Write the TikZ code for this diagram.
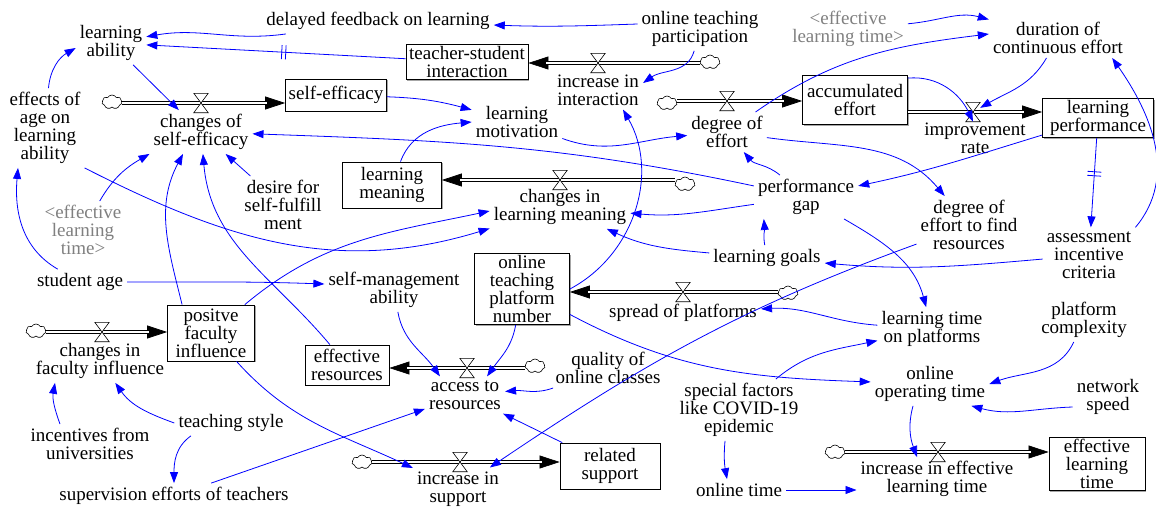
\documentclass[tikz,border=0pt]{standalone}
\usepackage{fontspec}
\setmainfont{Liberation Serif}
\usetikzlibrary{arrows.meta, shapes.symbols, shadows}

\definecolor{linkblue}{RGB}{0,0,255}

\tikzset{
  var/.style={align=center, inner sep=4pt, font=\fontsize{19}{18}\selectfont},
  ghost/.style={var, text=gray},
  stock/.style={var, draw, inner sep=2pt, line width=.8pt, fill=white,
    drop shadow={shadow xshift=1.2pt, shadow yshift=-1.2pt, fill=gray!70, opacity=1}},
  source/.style={cloud, draw, cloud puffs=7, cloud puff arc=120, aspect=1.4,
    minimum width=20pt, minimum height=14pt, inner sep=0pt, line width=.6pt},
  valvebox/.style={minimum width=14pt, minimum height=19pt, inner sep=0pt},
  valve/.style={draw, fill=white, line width=.6pt},
  link/.style={linkblue, line width=.8pt, -{Triangle[length=11pt,width=8pt]}},
  pipe/.style={double, double distance=2.4pt, line width=.7pt, shorten >=18pt},
  pipetip/.style={line width=.7pt, -{Triangle[length=20pt,width=13pt]}},
  delaymark/.pic={\draw[-, linkblue, line width=.8pt] (-2,-7) -- (-2,7) (2,-7) -- (2,7);},
}

\begin{document}
\begin{tikzpicture}[x=1pt, y=1pt]
\path[use as bounding box, fill=white] (0,0) rectangle (1156,-509);

% stocks
\node[stock, minimum width=122pt, minimum height=35pt] (tsi) at (467,-62) {teacher-student\\interaction};
\node[stock, minimum width=101pt, minimum height=32pt] (se) at (336,-95) {self-efficacy};
\node[stock, minimum width=105pt, minimum height=49pt] (ae) at (855,-100) {accumulated\\effort};
\node[stock, minimum width=111pt, minimum height=37pt] (lp) at (1098,-118) {learning\\performance};
\node[stock, minimum width=99pt, minimum height=46pt] (lm) at (392,-185) {learning\\meaning};
\node[stock, minimum width=95pt, minimum height=68pt] (otpn) at (522,-289) {online\\teaching\\platform\\number};
\node[stock, minimum width=87pt, minimum height=56pt] (pfi) at (211,-333) {positve\\faculty\\influence};
\node[stock, minimum width=84pt, minimum height=40pt] (er) at (347,-365) {effective\\resources};
\node[stock, minimum width=100pt, minimum height=46pt] (rs) at (610,-466) {related\\support};
\node[stock, minimum width=96pt, minimum height=53pt] (elt) at (1097,-464) {effective\\learning\\time};

% rates (labels under the valves)
\node[var] (cse) at (201,-132) {changes of\\self-efficacy};
\node[var] (iii) at (598,-90) {increase in\\interaction};
\node[var] (doe) at (727,-132) {degree of\\effort};
\node[var] (ir) at (975,-138) {improvement\\rate};
\node[var] (clm) at (560,-207) {changes in\\learning meaning};
\node[var] (sop) at (683,-313) {spread of platforms};
\node[var] (cfi) at (100,-361) {changes in\\faculty influence};
\node[var] (atr) at (465,-395) {access to\\resources};
\node[var] (iis) at (458,-489) {increase in\\support};
\node[var] (iielt) at (937,-479) {increase in effective\\learning time};

% auxiliaries
\node[var] (la) at (111,-43) {learning\\ability};
\node[var] (dfl) at (378,-21) {delayed feedback on learning};
\node[var] (otp) at (700,-29) {online teaching\\participation};
\node[var] (eoa) at (45,-128) {effects of\\age on\\learning\\ability};
\node[var] (dsf) at (283,-205) {desire for\\self-fulfill\\ment};
\node[ghost] (elt1) at (83,-230) {<effective\\learning\\time>};
\node[var] (lmot) at (517,-122) {learning\\motivation};
\node[ghost] (elt2) at (848,-29) {<effective\\learning time>};
\node[var] (dce) at (1058,-38) {duration of\\continuous effort};
\node[var] (pg) at (806,-197) {performance\\gap};
\node[var] (def) at (969,-225) {degree of\\effort to find\\resources};
\node[var] (aic) at (1089,-255) {assessment\\incentive\\criteria};
\node[var] (lg) at (767,-258) {learning goals};
\node[var] (sa) at (80,-282) {student age};
\node[var] (sma) at (394,-290) {self-management\\ability};
\node[var] (ltp) at (932,-329) {learning time\\on platforms};
\node[var] (pc) at (1084,-320) {platform\\complexity};
\node[var] (oot) at (930,-384) {online\\operating time};
\node[var] (ns) at (1108,-397) {network\\speed};
\node[var] (sfc) at (739,-410) {special factors\\like COVID-19\\epidemic};
\node[var] (qoc) at (608,-368) {quality of\\online classes};
\node[var] (ot) at (739,-490) {online time};
\node[var] (ifu) at (90,-444) {incentives from\\universities};
\node[var] (ts) at (231,-423) {teaching style};
\node[var] (set) at (174,-496) {supervision efforts of teachers};

% valves and clouds
\foreach \v/\p in {vse/{201,-103}, vtsi/{598,-63}, vae/{727,-101}, vlp/{973,-112},
                   vlm/{560,-180}, votpn/{683,-292}, vpfi/{102,-332}, ver/{467,-368},
                   vrs/{460,-462}, velt/{938,-452}}
  \node[valvebox] (\v) at (\p) {};
\foreach \c/\p in {c1/{112,-102}, c2/{710,-62}, c3/{667,-103}, c5/{685,-184},
                   c6/{788,-293}, c7/{36,-331}, c8/{535,-366}, c9/{362,-462}, c10/{835,-452}}
  \node[source] (\c) at (\p) {};

% flows
\foreach \v/\src/\dst in {vse/c1.east/se.west, vtsi/c2.west/tsi.east, vae/c3.east/ae.west,
                          vlp/ae.east/lp.west, vlm/c5.west/lm.east, votpn/c6.west/otpn.east,
                          vpfi/c7.east/pfi.west, ver/c8.west/er.east, vrs/c9.east/rs.west,
                          velt/c10.east/elt.west}
{
  \draw[pipetip] (\v) -- (\v -| \dst);
  \draw[pipe] (\src |- \v) -- (\v -| \dst);
}
\foreach \v in {vse, vtsi, vae, vlp, vlm, votpn, vpfi, ver, vrs, velt}
  \draw[valve] (\v.north west) -- (\v.north east) -- (\v.south west) -- (\v.south east) -- cycle;

% links, top left
\draw[link] ([yshift=5pt]otp.west) to[out=182,in=-2] (dfl);
\draw[link] (dfl) to[out=188,in=10] (la);
\draw[link] (tsi) -- pic[pos=.47, sloped]{delaymark} (la);
\draw[link] (la) -- (cse);
\draw[link] (eoa) to[out=85,in=210] ([yshift=-5pt]la.west);
\draw[link] (sa) to[out=150,in=-95] ([xshift=-27pt]eoa.south);
\draw[link] (eoa.south east) to[out=-27,in=197] (clm);
\draw[link] (elt1) to[out=60,in=210] (cse.south west);
\draw[link] (dsf) -- (cse);
\draw[link] ([xshift=15pt]pfi.north west) to[out=104,in=242] ([xshift=-18pt]cse.south);
\draw[link] (er) to[out=130,in=-85] (cse);
\draw[link] (pg) to[out=168,in=-2] (cse);
\draw[link] (se) to[out=-2,in=165] (lmot);
\draw[link] (lm) to[out=70,in=185] (lmot.west);
\draw[link] (lmot) to[out=-20,in=185] (doe);

% links, top right
\draw[link] (otp) to[out=-105,in=35] ([yshift=7pt]iii.east);
\draw[link] (otpn.east) to[out=28,in=-60] ([xshift=25pt]iii.south);
\draw[link] (doe) to[out=35,in=187] ([yshift=4pt]dce.west);
\draw[link] (elt2) to[out=5,in=165] (dce);
\draw[link] (dce) to[out=-120,in=30] (vlp);
\draw[link] ([yshift=-3pt]ae.north east) to[out=5,in=115] (vlp.south);
\draw[link] (lp) -- pic[pos=.4, sloped]{delaymark} (aic);
\draw[link] (aic.north east) to[out=50,in=-55] ([xshift=-15pt]dce.south east);
\draw[link] (aic) to[out=185,in=-5] (lg);
\draw[link] (lp) to[out=197,in=12] (pg);
\draw[link] (doe) to[out=-8,in=130] (def);
\draw[link] (pg) to[out=140,in=-50] (doe);
\draw[link] (pg) to[out=188,in=-5] (clm);
\draw[link] (lg) to[out=100,in=-85] ([xshift=10pt]pg.south west);
\draw[link] (lg) to[out=175,in=-25] (clm);
\draw[link] (pg) to[out=-30,in=105] (ltp);
\draw[link] (def) to[out=200,in=34] (iis);

% links, bottom
\draw[link] (ltp) to[out=176,in=3] (sop);
\draw[link] (sfc) to[out=40,in=192] (ltp);
\draw[link] (otpn) to[out=-28,in=178] (oot);
\draw[link] (pc) to[out=-115,in=20] (oot.east);
\draw[link] ([yshift=-10pt]ns.west) to[out=182,in=-15] ([xshift=-18pt]oot.south east);
\draw[link] ([xshift=-17pt]oot.south) to[out=-105,in=110] ([xshift=-20pt]iielt.north);
\draw[link] ([xshift=-14pt]sfc.south) to[out=-95,in=100] ([xshift=-12pt]ot.north);
\draw[link] (ot) -- (ot -| iielt.west);
\draw[link] (sa) to[out=0,in=178] ([yshift=6pt]sma.west);
\draw[link] (sma) to[out=-80,in=125] ([xshift=15pt]atr.north west);
\draw[link] (otpn) to[out=-100,in=55] ([xshift=-18pt]atr.north east);
\draw[link] (qoc) to[out=200,in=5] (atr);
\draw[link] (set) -- (atr);
\draw[link] (rs) -- (atr);
\draw[link] (pfi) to[out=-48,in=155] (iis);
\draw[link] (pfi) to[out=40,in=192] ([yshift=-4pt]clm.west);
\draw[link] ([xshift=-30pt]ifu.north) to[out=110,in=-100] ([xshift=-45pt]cfi.south);
\draw[link] (ts.west) to[out=160,in=-55] (cfi);
\draw[link] ([xshift=-40pt]ts.south) to[out=215,in=90] (set);

\end{tikzpicture}
\end{document}
